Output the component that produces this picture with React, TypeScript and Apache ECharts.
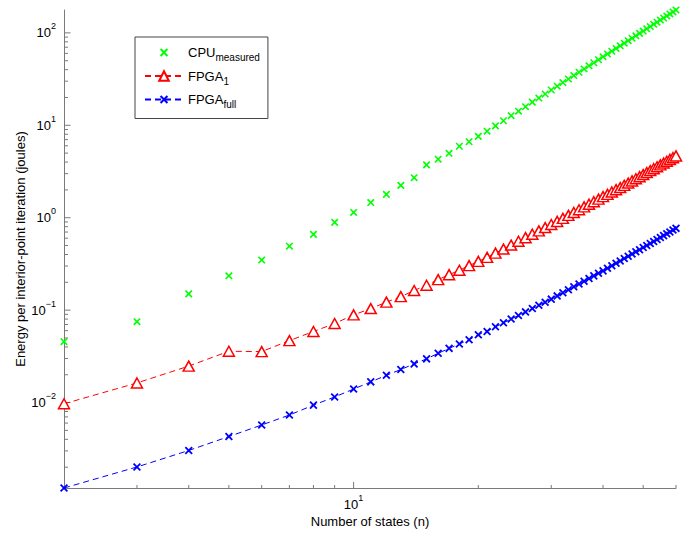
import React, { useEffect, useRef } from 'react';
import * as echarts from 'echarts';

const statesN = [2, 3, 4, 5, 6, 7, 8, 9, 10, 11, 12, 13, 14, 15, 16, 17, 18, 19, 20, 21, 22, 23, 24, 25, 26, 27, 28, 29, 30, 31, 32, 33, 34, 35, 36, 37, 38, 39, 40, 41, 42, 43, 44, 45, 46, 47, 48, 49, 50, 51, 52, 53, 54, 55, 56, 57, 58, 59, 60];

const cpuMeasured = [0.0456, 0.075, 0.150, 0.235, 0.348, 0.492, 0.66, 0.89, 1.14, 1.46, 1.79, 2.24, 2.71, 3.73, 4.30, 4.98, 5.93, 6.64, 7.59, 8.64, 9.86, 11.2, 12.7, 14.2, 15.9, 17.8, 19.7, 21.8, 24.1, 26.5, 29.0, 31.7, 34.5, 37.5, 40.7, 44.0, 47.5, 51.2, 55.1, 59.1, 63.3, 67.8, 72.4, 77.3, 82.3, 87.5, 93.0, 98.7, 104.6, 110.7, 117.1, 123.7, 130.5, 137.6, 144.9, 152.5, 160.3, 168.4, 176.8];

const fpga1 = [0.0097, 0.0163, 0.0248, 0.0359, 0.0356, 0.0468, 0.0587, 0.0716, 0.0888, 0.104, 0.122, 0.140, 0.163, 0.186, 0.214, 0.242, 0.270, 0.303, 0.337, 0.372, 0.414, 0.458, 0.506, 0.556, 0.608, 0.663, 0.721, 0.782, 0.845, 0.912, 0.984, 1.06, 1.14, 1.22, 1.31, 1.40, 1.49, 1.59, 1.69, 1.79, 1.90, 2.01, 2.12, 2.24, 2.37, 2.50, 2.64, 2.78, 2.93, 3.08, 3.23, 3.39, 3.56, 3.73, 3.90, 4.08, 4.27, 4.46, 4.66];

const fpgaFull = [0.00119, 0.00201, 0.00303, 0.00429, 0.00572, 0.00733, 0.00938, 0.0115, 0.0140, 0.01675, 0.0197, 0.0228, 0.0262, 0.0297, 0.0341, 0.0386, 0.0430, 0.0479, 0.0542, 0.0588, 0.0660, 0.0729, 0.0801, 0.0877, 0.0957, 0.1041, 0.1129, 0.1220, 0.1315, 0.1426, 0.154, 0.1661, 0.1788, 0.192, 0.2056, 0.220, 0.2348, 0.2502, 0.266, 0.2837, 0.3019, 0.321, 0.3407, 0.3612, 0.3825, 0.4046, 0.4273, 0.4509, 0.4753, 0.5005, 0.5267, 0.5538, 0.5817, 0.6106, 0.6401, 0.6707, 0.7021, 0.7347, 0.767];

const seriesNames = ['CPU_measured', 'FPGA_1', 'FPGA_full'];
const xAxisTitle = 'Number of states (n)';
const yAxisTitle = 'Energy per interior-point iteration (joules)';
const yDecades = [-3, -2, -1, 0, 1, 2];
const xDecades = [0, 1];

const FONT = 'Liberation Sans, Arial, Helvetica, sans-serif';
const AXIS_COLOR = '#7a7a7a';
const X_SYMBOL = 'path://M-2,-2M0,0L10,10M10,0L0,10M12,12';

export default function App() {
  const ref = useRef<HTMLDivElement>(null);
  useEffect(() => {
    if (!ref.current) return;
    const chart = echarts.init(ref.current, undefined, { renderer: 'svg' });
    const xMin = Math.min(...statesN);
    const xMax = Math.max(...statesN);
    const yMin = Math.min(...fpgaFull);
    const yMax = Math.max(...cpuMeasured);

    const tickData: number[][] = [];
    yDecades.forEach((e) => {
      for (let k = 1; k <= 9; k++) {
        const v = k * Math.pow(10, e);
        if (v > yMin && v < yMax) tickData.push([xMin, v, k === 1 ? 6.5 : 4, 0]);
      }
    });
    xDecades.forEach((e) => {
      for (let k = 1; k <= 9; k++) {
        const v = k * Math.pow(10, e);
        if (v > xMin && v <= xMax) tickData.push([v, yMin, k === 1 ? 6 : 3, 1]);
      }
    });

    const powLabel = (v: number) => {
      const e = Math.log10(v);
      const r = Math.round(e);
      if (Math.abs(e - r) > 1e-6) return '';
      return `{b|10}{s|${r < 0 ? '\u2212' + -r : r}}`;
    };
    const labelRich = {
      b: { fontSize: 13, lineHeight: 22, color: '#000', fontFamily: FONT },
      s: { fontSize: 9, lineHeight: 9, verticalAlign: 'top', color: '#000', fontFamily: FONT },
    };

    const mk = (arr: number[]) => statesN.map((n, i) => [n, arr[i]]);

    chart.setOption({
      animation: false,
      backgroundColor: '#fff',
      textStyle: { fontFamily: FONT },
      grid: { left: 64, right: 17, top: 10, bottom: 41 },
      legend: {
        orient: 'vertical',
        left: 135,
        top: 37,
        padding: [9, 8, 9, 9],
        itemGap: 7,
        itemWidth: 38,
        itemHeight: 12,
        borderColor: '#444',
        borderWidth: 1,
        backgroundColor: '#fff',
        data: seriesNames,
        formatter: (name: string) => {
          const [a, b] = name.split('_');
          return `{m|${a}}{u|${b}}`;
        },
        textStyle: {
          rich: {
            m: { fontSize: 13, lineHeight: 20, color: '#000', fontFamily: FONT },
            u: { fontSize: 10, lineHeight: 10, verticalAlign: 'bottom', color: '#000', fontFamily: FONT },
          },
        },
      },
      xAxis: {
        type: 'log',
        logBase: 10,
        min: xMin,
        max: xMax,
        name: xAxisTitle,
        nameLocation: 'middle',
        nameGap: 27,
        nameMoveOverlap: false,
        nameTextStyle: { fontSize: 13, color: '#000', fontFamily: FONT },
        axisLine: { show: true, lineStyle: { color: AXIS_COLOR, width: 1 } },
        axisTick: { show: false },
        splitLine: { show: false },
        minorTick: { show: false },
        axisLabel: { formatter: powLabel, margin: 5, rich: labelRich, showMinLabel: false, showMaxLabel: false },
      },
      yAxis: {
        type: 'log',
        logBase: 10,
        min: yMin,
        max: yMax,
        name: yAxisTitle,
        nameLocation: 'middle',
        nameGap: 37,
        nameMoveOverlap: false,
        nameRotate: 90,
        nameTextStyle: { fontSize: 13, color: '#000', fontFamily: FONT },
        axisLine: { show: true, lineStyle: { color: AXIS_COLOR, width: 1 } },
        axisTick: { show: false },
        splitLine: { show: false },
        minorTick: { show: false },
        axisLabel: { formatter: powLabel, margin: 8, rich: labelRich, showMinLabel: false, showMaxLabel: false },
      },
      series: [
        {
          type: 'custom',
          name: 'ticks',
          silent: true,
          clip: false,
          z: 1,
          data: tickData,
          renderItem: (params: any, api: any) => {
            const p = api.coord([api.value(0), api.value(1)]);
            const len = api.value(2);
            const dir = api.value(3);
            const shape = dir === 0
              ? { x1: p[0], y1: p[1], x2: p[0] + len, y2: p[1] }
              : { x1: p[0], y1: p[1], x2: p[0], y2: p[1] - len };
            return { type: 'line', shape, style: { stroke: AXIS_COLOR, lineWidth: 1 } };
          },
        },
        {
          name: seriesNames[0],
          type: 'line',
          data: mk(cpuMeasured),
          symbol: X_SYMBOL,
          symbolSize: 9,
          clip: false,
          z: 3,
          lineStyle: { width: 0, opacity: 0 },
          itemStyle: { color: '#00ff00', borderColor: '#00ff00', borderWidth: 1.6 },
          emphasis: { disabled: true },
        },
        {
          name: seriesNames[1],
          type: 'line',
          data: mk(fpga1),
          symbol: 'triangle',
          symbolSize: [11, 10],
          clip: false,
          z: 3,
          lineStyle: { color: '#ff0000', width: 1, type: [6, 4] },
          itemStyle: { color: '#ffffff', borderColor: '#ff0000', borderWidth: 1.5 },
          emphasis: { disabled: true },
        },
        {
          name: seriesNames[2],
          type: 'line',
          data: mk(fpgaFull),
          symbol: X_SYMBOL,
          symbolSize: 9.5,
          clip: false,
          z: 3,
          lineStyle: { color: '#0000ff', width: 1, type: [6, 4] },
          itemStyle: { color: '#0000ff', borderColor: '#0000ff', borderWidth: 1.8 },
          emphasis: { disabled: true },
        },
      ],
    });
    return () => chart.dispose();
  }, []);
  return <div ref={ref} style={{ position: 'fixed', left: 0, top: 0, width: 693, height: 533, background: '#fff' }} />;
}
